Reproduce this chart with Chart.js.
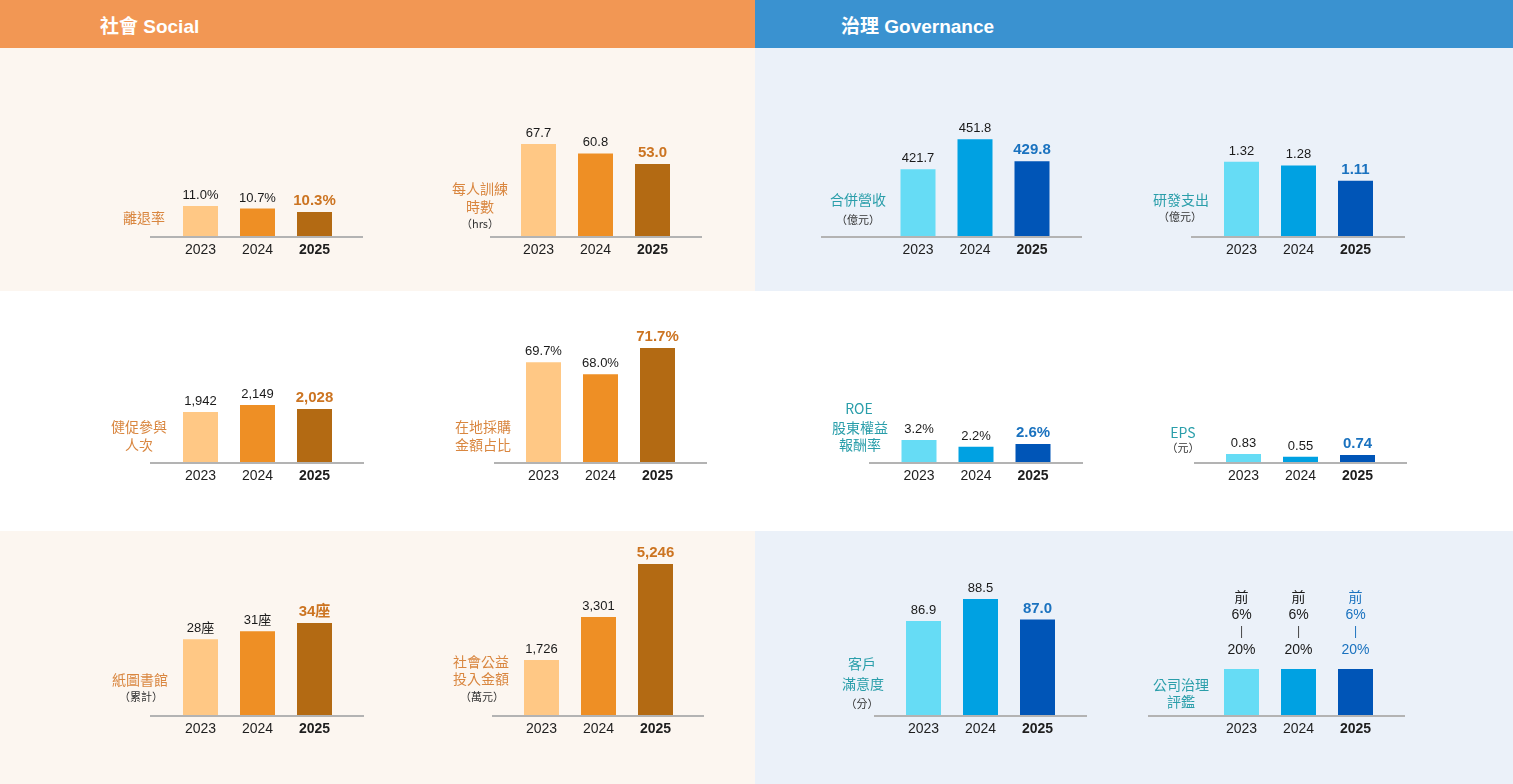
<!DOCTYPE html>
<html lang="zh-Hant">
<head>
<meta charset="utf-8">
<title>社會 Social / 治理 Governance</title>
<script src="https://cdn.jsdelivr.net/npm/chart.js@4.4.1/dist/chart.umd.min.js"></script>
<style>
  html, body { margin: 0; padding: 0; }
  body {
    width: 1513px; height: 784px; position: relative; overflow: hidden; background: #fff;
    font-family: 'Liberation Sans', Arial, 'Noto Sans CJK TC', sans-serif;
  }
  .band { position: absolute; }
  .hdr {
    position: absolute; top: 0; height: 47px; line-height: 53px; color: #fff;
    font-weight: bold; font-size: 19px;
    font-family: 'Liberation Sans', Arial, 'Noto Sans CJK TC', sans-serif;
  }
  canvas { position: absolute; }
  .ttl {
    position: absolute; width: 200px; height: 20px; line-height: 20px;
    text-align: center; white-space: nowrap;
    font-family: 'Noto Sans CJK TC', sans-serif;
  }
</style>
</head>
<body>
<div class="band" style="left:0;top:0;width:755px;height:48px;background:#F29754"></div>
<div class="band" style="left:755px;top:0;width:758px;height:48px;background:#3A92D0"></div>
<div class="band" style="left:0;top:48px;width:755px;height:243px;background:#FCF6F0"></div>
<div class="band" style="left:755px;top:48px;width:758px;height:243px;background:#EBF1F9"></div>
<div class="band" style="left:0;top:531px;width:755px;height:253px;background:#FCF6F0"></div>
<div class="band" style="left:755px;top:531px;width:758px;height:253px;background:#EBF1F9"></div>
<div class="hdr" style="left:100px">社會 Social</div>
<div class="hdr" style="left:841px">治理 Governance</div>

<script>
// 年度
const years = ['2023', '2024', '2025'];

// 社會
const turnoverRate = [11.0, 10.7, 10.3];     // 離退率 %
const trainingHours = [67.7, 60.8, 53.0];    // 每人訓練時數 hrs
const healthVisits = [1942, 2149, 2028];     // 健促參與人次
const localPurchase = [69.7, 68.0, 71.7];    // 在地採購金額占比 %
const libraries = [28, 31, 34];              // 紙圖書館 座(累計)
const donations = [1726, 3301, 5246];        // 社會公益投入金額 萬元

// 治理
const revenue = [421.7, 451.8, 429.8];       // 合併營收 億元
const rdExpense = [1.32, 1.28, 1.11];        // 研發支出 億元
const roe = [3.2, 2.2, 2.6];                 // ROE %
const eps = [0.83, 0.55, 0.74];              // EPS 元
const satisfaction = [86.9, 88.5, 87.0];     // 客戶滿意度 分
const govRankTop = [6, 6, 6];                // 公司治理評鑑 前6%
const govRankBottom = [20, 20, 20];          // ~20%

const textFont = "'Liberation Sans', Arial, 'Noto Sans CJK TC', sans-serif";

const themes = {
    s: { bars: ['#FFC885', '#EE8F25', '#B36A13'], accent: '#CC7421', title: '#D9863F' },
    g: { bars: ['#66DCF5', '#00A1E2', '#0055B7'], accent: '#1A72BF', title: '#2A9EAA' }
};

const pct1 = v => v.toFixed(1) + '%';
const fix1 = v => v.toFixed(1);
const fix2 = v => v.toFixed(2);
const thousands = v => v.toLocaleString('en-US');

// 每張小圖: 資料、刻度範圍、位置
const charts = [
    { data: turnoverRate, theme: 's', fmt: pct1, yMin: 7.5, yMax: 30.8,
      x0: 150, x1: 363, c0: 200.5, base: 236,
      title: [['離退率', 144, 217]] },
    { data: trainingHours, theme: 's', fmt: fix1, yMin: 0, yMax: 147.2,
      x0: 490, x1: 702, c0: 538.5, base: 236,
      title: [['每人訓練', 480, 188], ['時數', 480, 206], ['（hrs）', 480, 223, 's']] },
    { data: revenue, theme: 'g', fmt: fix1, yMin: 355, yMax: 555,
      x0: 821, x1: 1082, c0: 918, base: 236,
      title: [['合併營收', 858, 199], ['（億元）', 858, 219, 's']] },
    { data: rdExpense, theme: 'g', fmt: fix2, yMin: 0.5, yMax: 2.71,
      x0: 1191, x1: 1405, c0: 1241.5, base: 236,
      title: [['研發支出', 1181, 199], ['（億元）', 1180, 216, 's']] },
    { data: healthVisits, theme: 's', fmt: thousands, yMin: 463, yMax: 6380,
      x0: 150, x1: 364, c0: 200.5, base: 462,
      title: [['健促參與', 139, 426], ['人次', 139, 444]] },
    { data: localPurchase, theme: 's', fmt: pct1, yMin: 55.5, yMax: 83.95,
      x0: 494, x1: 707, c0: 543.5, base: 462,
      title: [['在地採購', 483, 426], ['金額占比', 483, 444]] },
    { data: roe, theme: 'g', fmt: pct1, yMin: 0, yMax: 29,
      x0: 869, x1: 1083, c0: 919, base: 462,
      title: [['ROE', 859, 408], ['股東權益', 860, 427], ['報酬率', 860, 444]] },
    { data: eps, theme: 'g', fmt: fix2, yMin: 0, yMax: 20.8,
      x0: 1194, x1: 1407, c0: 1243.5, base: 462,
      title: [['EPS', 1183, 432], ['（元）', 1183, 447, 's']] },
    { data: libraries, theme: 's', fmt: v => v + '座', yMin: 0, yMax: 74,
      x0: 150, x1: 364, c0: 200.5, base: 715,
      title: [['紙圖書館', 140, 679], ['（累計）', 141, 696, 's']] },
    { data: donations, theme: 's', fmt: thousands, yMin: -290, yMax: 7044,
      x0: 492, x1: 704, c0: 541.5, base: 715,
      title: [['社會公益', 481, 661], ['投入金額', 481, 678], ['（萬元）', 482, 696, 's']] },
    { data: satisfaction, theme: 'g', fmt: fix1, yMin: 80.06, yMax: 94.6,
      x0: 874, x1: 1087, c0: 923.5, base: 715,
      title: [['客戶', 862, 663], ['滿意度', 863, 683], ['（分）', 862, 703, 's']] },
    { data: govRankBottom, theme: 'g', rank: true, yMin: 0, yMax: 87,
      x0: 1148, x1: 1405, c0: 1241.5, base: 715,
      title: [['公司治理', 1181, 684], ['評鑑', 1181, 701]] }
];

const PLOT_H = 200;
const AXIS_H = 24;
const STEP = 57;

// 底線
const baseline = {
    id: 'baseline',
    beforeDatasetsDraw(chart) {
        const ctx = chart.ctx;
        const y = chart.chartArea.bottom + 1;
        ctx.save();
        ctx.strokeStyle = '#B3B3B3';
        ctx.lineWidth = 2;
        ctx.beginPath();
        ctx.moveTo(0, y);
        ctx.lineTo(chart.width, y);
        ctx.stroke();
        ctx.restore();
    }
};

function valueLabels(def) {
    const pal = themes[def.theme];
    return {
        id: 'valueLabels',
        afterDatasetsDraw(chart) {
            const ctx = chart.ctx;
            chart.getDatasetMeta(0).data.forEach((bar, i) => {
                const last = i === years.length - 1;
                ctx.save();
                ctx.textAlign = 'center';
                if (def.rank) {
                    const lines = ['前', govRankTop[i] + '%', '|', govRankBottom[i] + '%'];
                    const offs = [71, 54, 37, 19];
                    ctx.textBaseline = 'middle';
                    lines.forEach((t, k) => {
                        ctx.font = (t === '|' ? '12px ' : '14px ') + textFont;
                        ctx.fillStyle = last ? pal.accent : (t === '|' ? '#444' : '#1a1a1a');
                        ctx.fillText(t, bar.x, bar.y - offs[k]);
                    });
                } else {
                    ctx.font = (last ? 'bold 15px ' : '13px ') + textFont;
                    ctx.fillStyle = last ? pal.accent : '#1a1a1a';
                    ctx.textBaseline = 'alphabetic';
                    ctx.fillText(def.fmt(def.data[i]), bar.x, bar.y - 7);
                }
                ctx.restore();
            });
        }
    };
}

charts.forEach(def => {
    const pal = themes[def.theme];
    const cv = document.createElement('canvas');
    const w = def.x1 - def.x0;
    cv.width = w;
    cv.height = PLOT_H + AXIS_H;
    cv.style.left = def.x0 + 'px';
    cv.style.top = (def.base - PLOT_H) + 'px';
    document.body.appendChild(cv);

    const padL = def.c0 - STEP / 2 - def.x0;
    const padR = def.x1 - (def.c0 + STEP * 2 + STEP / 2);

    new Chart(cv, {
        type: 'bar',
        data: {
            labels: years,
            datasets: [{
                data: def.data,
                backgroundColor: pal.bars,
                base: def.yMin,
                borderWidth: 0,
                categoryPercentage: 1,
                barPercentage: 35 / STEP
            }]
        },
        options: {
            responsive: false,
            animation: false,
            layout: { padding: { left: padL, right: padR, top: 0, bottom: 0 } },
            plugins: { legend: { display: false }, tooltip: { enabled: false } },
            scales: {
                x: {
                    grid: { display: false, drawTicks: false },
                    border: { display: false },
                    ticks: {
                        padding: 6,
                        color: '#1e1e1e',
                        font: c => ({ family: textFont, size: 14, weight: c.index === 2 ? 'bold' : 'normal' })
                    },
                    afterFit: s => { s.height = AXIS_H; }
                },
                y: { display: false, min: def.yMin, max: def.yMax }
            }
        },
        plugins: [baseline, valueLabels(def)]
    });

    // 左側標題
    def.title.forEach(([text, x, y, kind]) => {
        const d = document.createElement('div');
        d.className = 'ttl';
        d.textContent = text;
        d.style.left = (x - 100) + 'px';
        d.style.top = (y - 10) + 'px';
        if (kind === 's') {
            d.style.fontSize = '11px';
            d.style.color = '#333';
        } else {
            d.style.fontSize = '14px';
            d.style.color = pal.title;
        }
        document.body.appendChild(d);
    });
});
</script>
</body>
</html>
